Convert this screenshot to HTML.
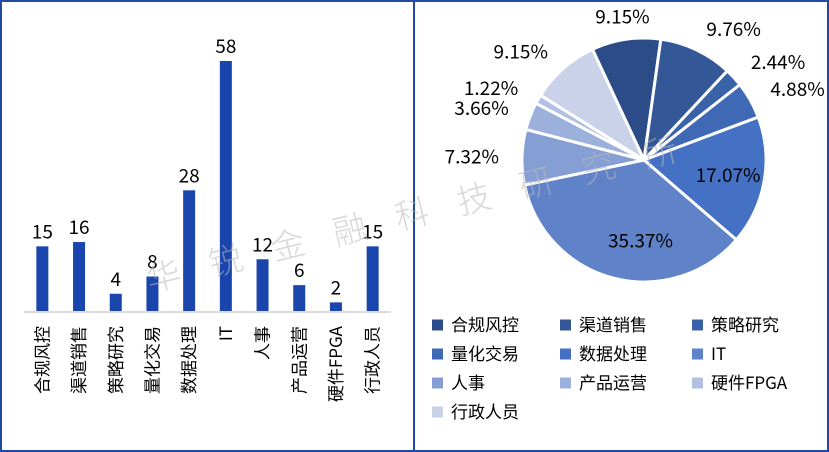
<!DOCTYPE html>
<html><head><meta charset="utf-8"><style>
body{margin:0;background:#fff}
svg{display:block;font-family:"Noto Sans CJK SC","Liberation Sans",sans-serif}
</style></head><body>
<svg width="829" height="452" viewBox="0 0 829 452" id="svg">
<rect x="1" y="1" width="827" height="450" fill="#fff" stroke="#1f4aa8" stroke-width="2"/>
<line x1="414" y1="0" x2="414" y2="452" stroke="#1f4aa8" stroke-width="2"/>
<g id="bars"></g>
<g id="pie"></g>
<g id="legend"></g>
<text x="150" y="292" transform="rotate(-14 150 292)" font-size="34" fill="#b8b8b8" fill-opacity="0.55" font-weight="300" letter-spacing="30">华锐金融科技研究所</text>
</svg>
<script>
const categories=["合规风控","渠道销售","策略研究","量化交易","数据处理","IT","人事","产品运营","硬件FPGA","行政人员"];
const counts=[15,16,4,8,28,58,12,6,2,15];
const percents=["9.15%","9.76%","2.44%","4.88%","17.07%","35.37%","7.32%","3.66%","1.22%","9.15%"];
const colors=["#2c4c88","#335797","#3a62a8","#3f69b5","#4471c4","#5f82c9","#859fd4","#9cb0dc","#b2c1e3","#c9d2e8"];
const NS="http://www.w3.org/2000/svg";
function mk(t,a,p){const e=document.createElementNS(NS,t);for(const k in a)e.setAttribute(k,a[k]);p.appendChild(e);return e;}
const bars=document.getElementById('bars');
const baseY=311,x0=24,step=36.7,bw=12,scale=250/58;
const xc=i=>x0+step*(i+0.5);
const yv=v=>baseY-v*scale;
counts.forEach((v,i)=>{
 const r=mk('rect',{x:xc(i)-bw/2,y:yv(v),width:bw,height:baseY-yv(v),fill:'#1a45ad'},bars);
 
 
 const t=mk('text',{x:xc(i),y:yv(v)-8,'font-size':19,'text-anchor':'middle',fill:'#000'},bars);
 t.textContent=v;
 
 
 const l=mk('text',{x:0,y:0,'font-size':17,'text-anchor':'end',fill:'#000',transform:`translate(${xc(i)+6},326) rotate(-90)`},bars);
 l.textContent=categories[i];
 
 
});
const ax=mk('line',{x1:x0,y1:baseY+1,x2:x0+step*10,y2:baseY+1,stroke:'#d0d0d0','stroke-width':1.5},bars);


const pie=document.getElementById('pie');
const cx=644,cy=160,R=122;
const vals=percents.map(p=>parseFloat(p));
const tot=vals.reduce((a,b)=>a+b,0);
let ang=-25;
const pt=(a,r)=>[cx+r*Math.sin(a*Math.PI/180),cy-r*Math.cos(a*Math.PI/180)];
vals.forEach((v,i)=>{
 const sw=v/tot*360,a1=ang,a2=ang+sw,m=(a1+a2)/2;
 const p1=pt(a1,R),p2=pt(a2,R);
 const s=mk('path',{d:`M${cx},${cy}L${p1[0]},${p1[1]}A${R},${R} 0 ${sw>180?1:0} 1 ${p2[0]},${p2[1]}Z`,fill:colors[i],stroke:'#fff','stroke-width':3,'stroke-linejoin':'round'},pie);
 
 
 let lp,anchor;
 if(sw>90){lp=pt(m-12,R*0.66);anchor='middle';}
 else if(sw>50){lp=pt(m,R*0.7);anchor='middle';}
 else{lp=pt(m,145);const sx=Math.sin(m*Math.PI/180);anchor=Math.abs(sx)<0.3?'middle':(sx>0?'start':'end');}
 const t=mk('text',{x:lp[0],y:lp[1]+7,'font-size':19,'text-anchor':anchor,fill:'#000'},pie);
 t.textContent=percents[i];
 
 
 ang=a2;
});
const lg=document.getElementById('legend');
const colX=[432,560,692],rowY=[325,354,383,412];
categories.forEach((c,i)=>{
 const x=colX[i%3],y=rowY[Math.floor(i/3)];
 const g=mk('g',{},lg);
 
 
 mk('rect',{x:x,y:y-5.5,width:11,height:11,fill:colors[i]},g);
 const t=mk('text',{x:x+19,y:y+6,'font-size':17,fill:'#000'},g);
 t.textContent=c;
});
</script>
</body></html>
